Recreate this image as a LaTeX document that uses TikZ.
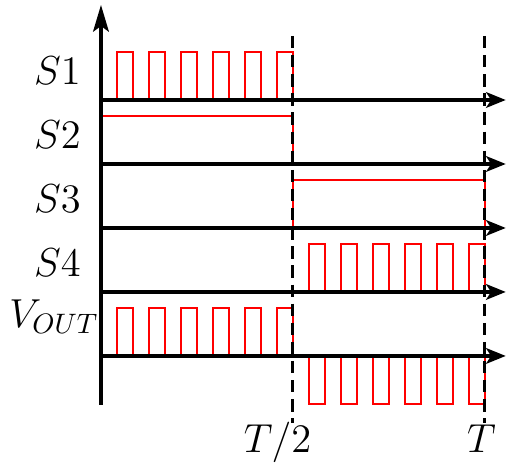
\documentclass[tikz,border=0pt]{standalone}
\usetikzlibrary{arrows.meta}
\definecolor{cred}{HTML}{FF0000}
\tikzset{
  every picture/.style={x=0.4cm, y=0.4cm, line width=1.1pt},
  signal/.style={draw=cred, line width=1pt},
  timeaxis/.style={-{Stealth[length=7pt, width=5.6pt, inset=1.8pt]}},
  yaxis/.style={-{Stealth[length=9.5pt, width=5.6pt, inset=2pt]}},
  marker/.style={dash pattern=on 4.4pt off 2.4pt, line width=1.1pt},
  lbl/.style={font=\fontsize{13.8}{16}\selectfont, anchor=base, inner sep=0pt},
}

\begin{document}
\begin{tikzpicture}
  \useasboundingbox (-3.156,-3.375) rectangle (12.69,11.125);

  % switch signals
  \draw[signal] (0,8) \foreach \k in {0,...,5} { -- (\k+0.5,8) -- ++(0,1.5) -- ++(0.5,0) -- ++(0,-1.5) } -- (12,8);
  \draw[signal] (0,7.5) -- (6,7.5) -- (6,6);
  \draw[signal] (0,4) -- (6,4) -- (6,5.5) -- (12,5.5) -- (12,4);
  \draw[signal] (0,2) -- (6,2) \foreach \k in {6,...,11} { -- (\k+0.5,2) -- ++(0,1.5) -- ++(0.5,0) -- ++(0,-1.5) };
  % output voltage
  \draw[signal] (0,0) \foreach \k in {0,...,5} { -- (\k+0.5,0) -- ++(0,1.5) -- ++(0.5,0) -- ++(0,-1.5) }
    \foreach \k in {6,...,11} { -- (\k+0.5,0) -- ++(0,-1.5) -- ++(0.5,0) -- ++(0,1.5) };

  % axes
  \coordinate (o) at (0,-1.53);
  \coordinate (top) at (0,10.97);
  \draw[yaxis] (o) -- (top);
  \foreach \lev/\nm/\txt/\lx/\ly in {8/s1/$S1$/-1.36/8.47, 6/s2/$S2$/-1.36/6.47, 4/s3/$S3$/-1.36/4.47,
      2/s4/$S4$/-1.36/2.47, 0/vout/$V_{OUT}$/-1.47/0.9} {
    \coordinate (\nm) at (0,\lev);
    \coordinate (\nm-end) at (12.65,\lev);
    \draw[timeaxis] (\nm) -- (\nm-end);
    \node[lbl] (\nm-lbl) at (\lx,\ly) {\txt};
  }

  % half period and period
  \coordinate (half-top) at (6,10);
  \coordinate (half-bot) at (6,-2.1);
  \coordinate (per-top) at (12,10);
  \coordinate (per-bot) at (12,-2.1);
  \draw[marker] (half-top) -- (half-bot);
  \draw[marker] (per-top) -- (per-bot);
  \node[lbl] (half) at (5.52,-3.03) {$T/2$};
  \node[lbl] (per) at (11.89,-3.03) {$T$};
\end{tikzpicture}
\end{document}
